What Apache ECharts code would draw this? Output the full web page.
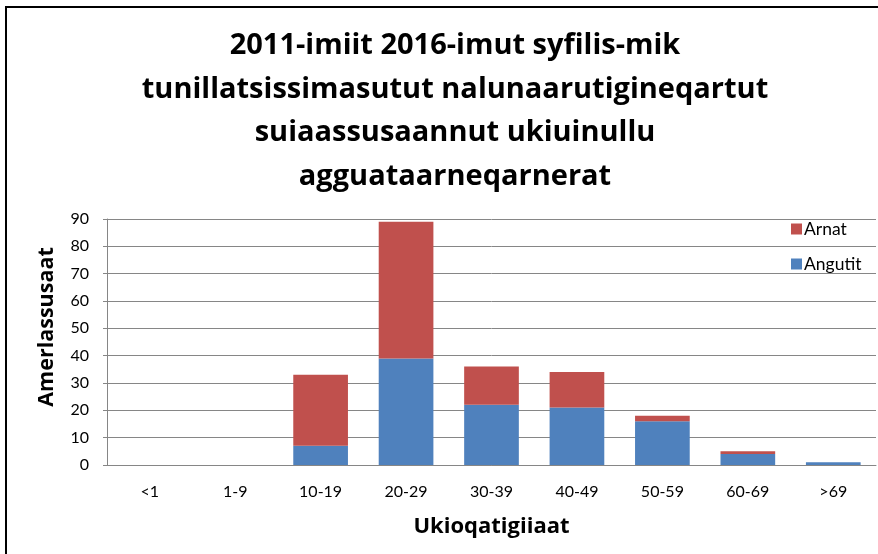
<!DOCTYPE html>
<html>
<head>
<meta charset="utf-8">
<script src="https://cdn.jsdelivr.net/npm/echarts@6/dist/echarts.min.js"></script>
<style>
  html, body { margin: 0; padding: 0; background: #fff; }
  #chart { width: 878px; height: 554px; }
</style>
</head>
<body>
<div id="chart"></div>
<script>
    // age groups
    var ageGroups = ['<1', '1-9', '10-19', '20-29', '30-39', '40-49', '50-59', '60-69', '>69'];
    // men (bottom of stack)
    var angutit = [0, 0, 7, 39, 22, 21, 16, 4, 1];
    // women (top of stack)
    var arnat = [0, 0, 26, 50, 14, 13, 2, 1, 0];
    var yTicks = [0, 90, 10];

    var titleText = '2011-imiit 2016-imut syfilis-mik\ntunillatsissimasutut nalunaarutigineqartut\nsuiaassusaannut ukiuinullu\nagguataarneqarnerat';
    var fontFam = 'Lato, "Open Sans", sans-serif';
    var titleFam = '"Open Sans", Lato, sans-serif';

    var myChart = echarts.init(document.getElementById('chart'));
    var option = {
        backgroundColor: '#fff',
        animation: false,
        title: {
            text: titleText,
            left: 450,
            textAlign: 'center',
            top: 19,
            textStyle: {
                fontFamily: titleFam,
                fontSize: 29,
                fontWeight: 'bold',
                color: '#000',
                lineHeight: 43.5
            }
        },
        legend: {
            data: ['Arnat', 'Angutit'],
            orient: 'vertical',
            left: 786,
            top: 215,
            itemWidth: 11,
            itemHeight: 11,
            itemGap: 17,
            icon: 'rect',
            textStyle: {
                fontFamily: fontFam,
                fontSize: 17.5,
                color: '#000',
                padding: [0, 0, 0, -3]
            }
        },
        grid: {
            left: 107,
            right: 2,
            top: 219,
            bottom: 89
        },
        xAxis: {
            type: 'category',
            data: ageGroups,
            name: 'Ukioqatigiiaat',
            nameLocation: 'middle',
            nameGap: 51,
            nameTextStyle: {
                fontFamily: titleFam,
                fontSize: 22,
                fontWeight: 'bold',
                color: '#000'
            },
            axisLine: { lineStyle: { color: '#868686', width: 1 } },
            axisTick: { show: false },
            axisLabel: {
                fontFamily: fontFam,
                fontSize: 16,
                color: '#000',
                margin: 19
            }
        },
        yAxis: {
            type: 'value',
            min: yTicks[0],
            max: yTicks[1],
            interval: yTicks[2],
            name: 'Amerlassusaat',
            nameLocation: 'middle',
            nameGap: 49,
            nameTextStyle: {
                fontFamily: titleFam,
                fontSize: 21.5,
                fontWeight: 'bold',
                color: '#000',
                padding: [0, 0, 0, 30]
            },
            axisLine: { show: true, lineStyle: { color: '#868686', width: 1 } },
            axisTick: { show: true, length: 4, lineStyle: { color: '#868686' } },
            splitLine: { lineStyle: { color: '#868686', width: 1 } },
            axisLabel: {
                fontFamily: fontFam,
                fontSize: 16,
                color: '#000',
                margin: 18
            }
        },
        series: [
            {
                name: 'Angutit',
                type: 'bar',
                stack: 'total',
                data: angutit,
                barCategoryGap: '36%',
                itemStyle: { color: '#4F81BD' }
            },
            {
                name: 'Arnat',
                type: 'bar',
                stack: 'total',
                data: arnat,
                barCategoryGap: '36%',
                itemStyle: { color: '#C0504D' }
            }
        ],
        graphic: [
            {
                type: 'rect',
                shape: { x: 6, y: 7, width: 1000, height: 700 },
                style: { fill: null, stroke: '#000', lineWidth: 2 },
                silent: true
            }
        ]
    };
    myChart.setOption(option);
</script>
</body>
</html>
